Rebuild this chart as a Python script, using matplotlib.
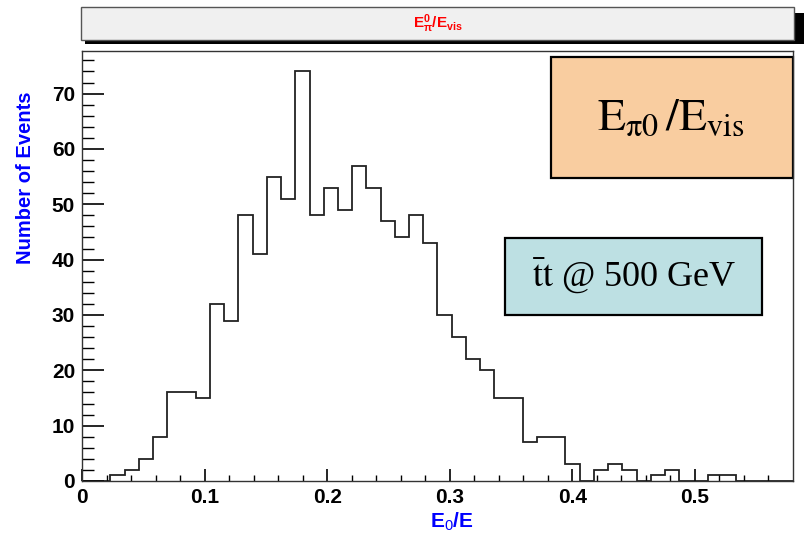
import numpy as np
import matplotlib
matplotlib.use("Agg")
import matplotlib.pyplot as plt
from matplotlib.patches import Rectangle

# histogram of E_pi0 / E_vis, 50 bins on [0, 0.58]
x_lo = 0.0
x_hi = 0.58
counts = [0, 0, 1, 2, 4, 8, 16, 16, 15, 32,
          29, 48, 41, 55, 51, 74, 48, 53, 49, 57,
          53, 47, 44, 48, 43, 30, 26, 22, 20, 15,
          15, 7, 8, 8, 3, 0, 2, 3, 2, 0,
          1, 2, 0, 0, 1, 1, 0, 0, 0, 0]
x_ticks = [0, 0.1, 0.2, 0.3, 0.4, 0.5]
x_ticklabels = ["0", "0.1", "0.2", "0.3", "0.4", "0.5"]
y_ticks = [0, 10, 20, 30, 40, 50, 60, 70]

plt.rcParams['font.family'] = ['Liberation Sans', 'DejaVu Sans']
plt.rcParams['mathtext.fontset'] = 'custom'
plt.rcParams['mathtext.rm'] = 'Liberation Sans'
plt.rcParams['mathtext.bf'] = 'Liberation Sans:bold'
plt.rcParams['mathtext.it'] = 'Liberation Sans:italic'

W, H = 806, 533
fig = plt.figure(figsize=(W / 100, H / 100), dpi=100)

def fx(px):
    return px / W

def fy(py):
    return 1 - py / H

ax = fig.add_axes([fx(82), fy(481), fx(793) - fx(82), fy(51) - fy(481)])

edges = np.linspace(x_lo, x_hi, len(counts) + 1)
ax.stairs(counts, edges, color='#222222', linewidth=1.3)

ax.set_xlim(x_lo, x_hi)
ax.set_ylim(0, max(counts) * 1.05)
ax.set_xticks(x_ticks)
ax.set_xticklabels(x_ticklabels)
ax.set_xticks(np.arange(0.02, 0.58, 0.02), minor=True)
ax.set_yticks(y_ticks)
ax.set_yticks(np.arange(0, 78, 2), minor=True)
ax.tick_params(axis='x', which='major', direction='in', length=9, width=1.2, pad=5,
               labelsize=15)
ax.tick_params(axis='x', which='minor', direction='in', length=4.5, width=1)
ax.tick_params(axis='y', which='major', direction='in', length=15.5, width=1.2, pad=5,
               labelsize=15)
ax.tick_params(axis='y', which='minor', direction='in', length=8.5, width=1)
for lab in ax.get_xticklabels() + ax.get_yticklabels():
    lab.set_fontweight('bold')
for s in ax.spines.values():
    s.set_color('#333333')
    s.set_linewidth(1)

ax.set_xlabel(r'$\mathbf{E_{\mathit{0}}/E}$', color='blue', fontsize=15)
ax.xaxis.set_label_coords(0.52, -0.07)
ax.set_ylabel('Number of Events', color='blue', fontsize=14.5, fontweight='bold')
ax.yaxis.set_label_coords(-0.066, 0.706)

# title box with shadow
fig.add_artist(Rectangle((fx(85), fy(44)), fx(804) - fx(85), fy(13) - fy(44),
                         transform=fig.transFigure, facecolor='black', edgecolor='none'))
fig.add_artist(Rectangle((fx(81), fy(40)), fx(794) - fx(81), fy(7) - fy(40),
                         transform=fig.transFigure, facecolor='#f0f0f0',
                         edgecolor='#555555', linewidth=1))
fig.text(fx(438), fy(24), r'$\mathbf{E_{\pi}^{0}/E_{vis}}$', color='red',
         fontsize=11, ha='center', va='center')

# orange box
ax.add_patch(Rectangle((0.659, 0.705), 0.341, 0.28, transform=ax.transAxes,
                       facecolor='#f9cda0', edgecolor='black', linewidth=1.6,
                       clip_on=False))
ax.text(0.829, 0.845, r'$\mathrm{E}_{\mathrm{π0}}\,/\mathrm{E}_{\mathrm{vis}}$',
        transform=ax.transAxes, fontsize=33, ha='center', va='center',
        math_fontfamily='stix')

# blue box
ax.add_patch(Rectangle((0.595, 0.386), 0.362, 0.178, transform=ax.transAxes,
                       facecolor='#bde0e3', edgecolor='black', linewidth=1.6))
ax.text(0.776, 0.475, r'$\bar{\mathrm{t}}\mathrm{t}$ @ 500 GeV',
        transform=ax.transAxes, fontsize=26, ha='center', va='center',
        family='Liberation Serif', math_fontfamily='stix')

fig.savefig('out.png', dpi=100)
